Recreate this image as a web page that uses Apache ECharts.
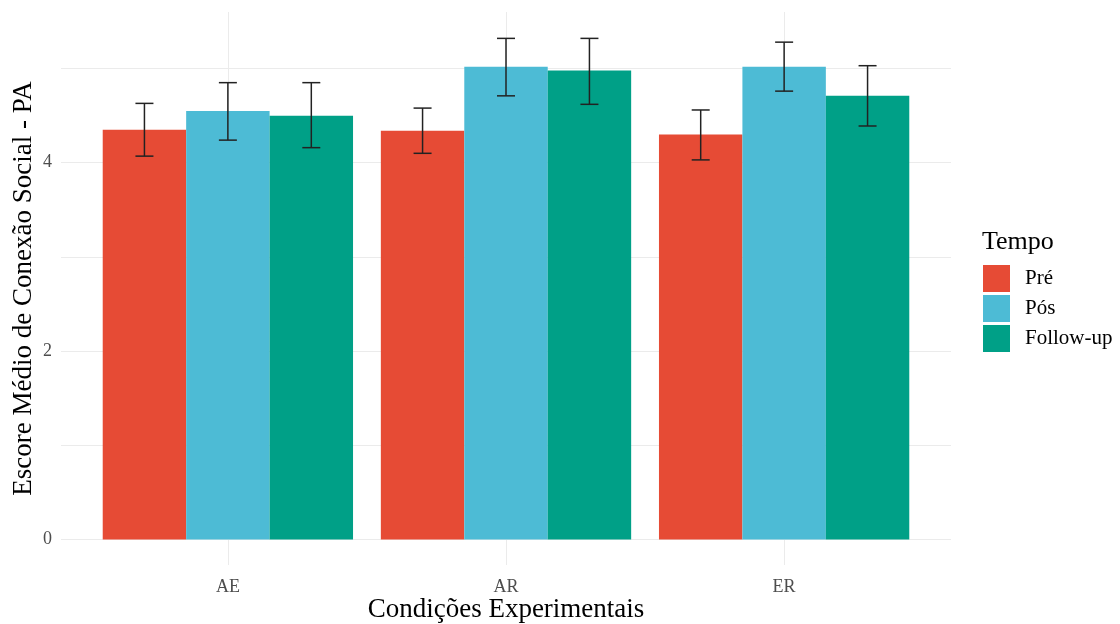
<!DOCTYPE html>
<html><head><meta charset="utf-8">
<script src="https://cdn.jsdelivr.net/npm/echarts@6/dist/echarts.min.js"></script>
<style>html,body{margin:0;padding:0;background:#fff}#c{width:1120px;height:624px}</style>
</head><body><div id="c"></div>
<script>
const categories = ['AE', 'AR', 'ER'];
const seriesNames = ['Pré', 'Pós', 'Follow-up'];
const pre = [4.35, 4.34, 4.30];
const pos = [4.55, 5.02, 5.02];
const followUp = [4.50, 4.98, 4.71];
const preLow = [4.07, 4.10, 4.03];
const preHigh = [4.63, 4.58, 4.56];
const posLow = [4.24, 4.71, 4.76];
const posHigh = [4.85, 5.32, 5.28];
const fuLow = [4.16, 4.62, 4.39];
const fuHigh = [4.85, 5.32, 5.03];
const yTickLabels = [0, 2, 4];
const yGridValues = [0, 1, 2, 3, 4, 5];

const colors = ['#E64B35', '#4DBBD5', '#00A087'];
const means = [pre, pos, followUp];
const lows = [preLow, posLow, fuLow];
const highs = [preHigh, posHigh, fuHigh];
const font = 'Liberation Serif';
const offsets = [-0.3, 0, 0.3];

const series = [];
means.forEach((vals, i) => {
  series.push({
    name: seriesNames[i], type: 'bar', barWidth: '30%', barGap: '0%',
    itemStyle: {color: colors[i]},
    data: vals.map((v, k) => [k + 1, v])
  });
});
means.forEach((vals, i) => {
  series.push({
    type: 'custom', z: 10, silent: true,
    data: vals.map((v, k) => [k + 1 + offsets[i], lows[i][k], highs[i][k]]),
    renderItem: function (params, api) {
      const x = api.value(0);
      const lo = api.coord([x, api.value(1)]);
      const hi = api.coord([x, api.value(2)]);
      const hw = 9;
      const st = {stroke: '#222', lineWidth: 1.5};
      return {type: 'group', children: [
        {type: 'line', shape: {x1: lo[0], y1: lo[1], x2: hi[0], y2: hi[1]}, style: st},
        {type: 'line', shape: {x1: lo[0] - hw, y1: lo[1], x2: lo[0] + hw, y2: lo[1]}, style: st},
        {type: 'line', shape: {x1: hi[0] - hw, y1: hi[1], x2: hi[0] + hw, y2: hi[1]}, style: st}
      ]};
    }
  });
});

const chart = echarts.init(document.getElementById('c'));
chart.setOption({
  animation: false,
  backgroundColor: '#fff',
  title: {text: 'Tempo', left: 982, top: 229, padding: 0, textStyle: {fontFamily: font, fontSize: 26, fontWeight: 'normal', color: '#000'}},
  legend: {
    data: seriesNames, orient: 'vertical', left: 983, top: 265, itemWidth: 27, itemHeight: 27, itemGap: 3,
    icon: 'rect', padding: 0,
    textStyle: {fontFamily: font, fontSize: 21, color: '#000', padding: [0, 0, 0, 10]}
  },
  grid: {left: 61, right: 169, top: 12, bottom: 59, containLabel: false, outerBoundsMode: 'none'},
  xAxis: {
    type: 'value', min: 0.4, max: 3.6,
    name: 'Condições Experimentais', nameLocation: 'middle', nameGap: 31, nameMoveOverlap: false,
    nameTextStyle: {fontFamily: font, fontSize: 27, color: '#000'},
    axisLine: {show: false},
    axisTick: {show: false, customValues: [1, 2, 3]},
    axisLabel: {customValues: [1, 2, 3], formatter: v => categories[Math.round(v) - 1], fontFamily: font, fontSize: 18, color: '#4d4d4d', margin: 13},
    splitLine: {show: true, lineStyle: {color: '#ebebeb', width: 1}}
  },
  yAxis: {
    type: 'value', min: -0.27, max: 5.6,
    name: 'Escore Médio de Conexão Social - PA', nameLocation: 'middle', nameGap: 24, nameMoveOverlap: false,
    nameTextStyle: {fontFamily: font, fontSize: 27, color: '#000'},
    axisLine: {show: false},
    axisTick: {show: false, customValues: yGridValues},
    axisLabel: {customValues: yTickLabels, fontFamily: font, fontSize: 18, color: '#4d4d4d', margin: 9},
    splitLine: {show: true, lineStyle: {color: '#ebebeb', width: 1}}
  },
  series: series
});
</script></body></html>
